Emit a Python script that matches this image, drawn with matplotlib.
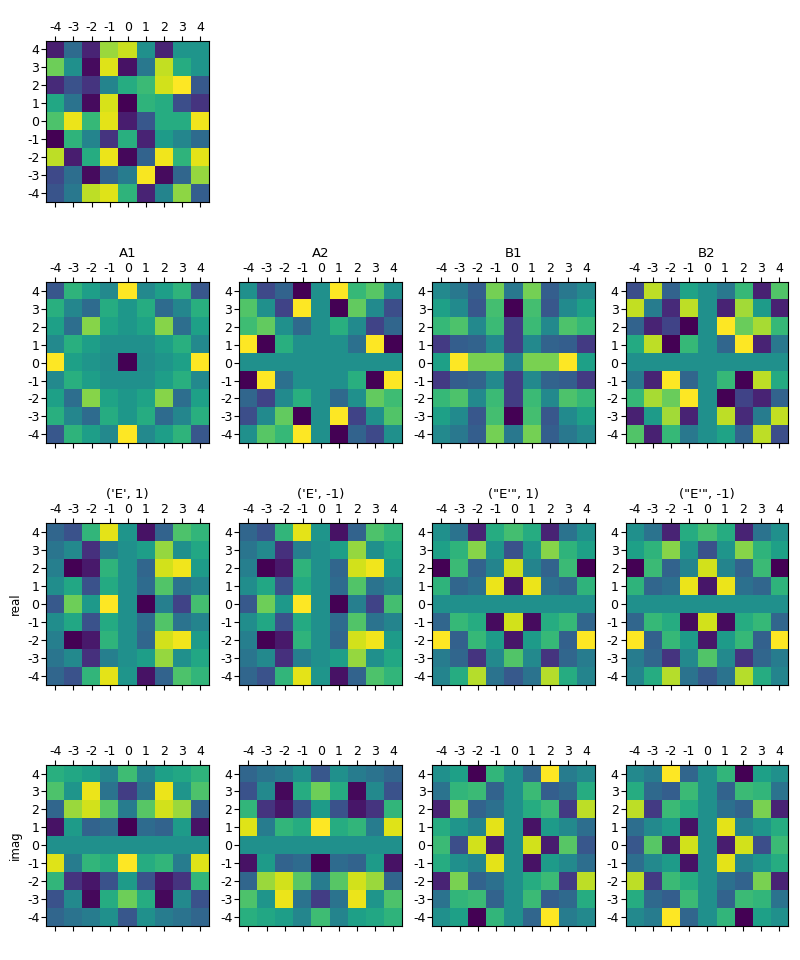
import numpy as np
import matplotlib
matplotlib.use("Agg")
import matplotlib.pyplot as plt

tick_vals = [-4, -3, -2, -1, 0, 1, 2, 3, 4]

# cell values, top row (y=4) first, scaled 0..1
full = [
    [.08, .35, .10, .85, .92, .50, .10, .52, .52],
    [.78, .50, .03, .95, .05, .40, .91, .62, .52],
    [.12, .25, .15, .45, .62, .68, .93, 1.0, .28],
    [.60, .38, .03, .94, 0, .65, .62, .24, .15],
    [.72, .97, .67, .96, .08, .27, .62, .62, .98],
    [0, .65, .45, .15, .63, .10, .55, .46, .35],
    [.90, .08, .62, .97, .02, .32, .98, .65, .96],
    [.22, .36, .03, .32, .42, .99, .03, .33, .84],
    [.26, .40, .90, .95, .65, .10, .45, .83, .30],
]

a1 = [
    [.27, .65, .56, .47, 1, .47, .56, .65, .27],
    [.63, .46, .35, .62, .53, .62, .35, .46, .63],
    [.57, .36, .82, .58, .53, .58, .82, .36, .57],
    [.47, .63, .56, .50, .50, .50, .56, .63, .47],
    [1, .57, .52, .49, 0, .49, .52, .57, 1],
    [.47, .63, .56, .50, .50, .50, .56, .63, .47],
    [.57, .36, .82, .58, .53, .58, .82, .36, .57],
    [.63, .46, .35, .62, .53, .62, .35, .46, .63],
    [.27, .65, .56, .47, 1, .47, .56, .65, .27],
]

a2 = [
    [.5, .22, .32, 0, .5, 1, .67, .74, .5],
    [.73, .5, .2, 1, .5, 0, .76, .48, .24],
    [.69, .76, .5, .34, .5, .63, .48, .2, .33],
    [1, 0, .63, .5, .5, .5, .37, 1, 0],
    [.5, .5, .5, .5, .5, .5, .5, .5, .5],
    [0, 1, .37, .5, .5, .5, .63, 0, 1],
    [.33, .2, .48, .63, .5, .34, .5, .76, .69],
    [.24, .48, .76, 0, .5, 1, .2, .5, .73],
    [.5, .74, .67, 1, .5, 0, .32, .22, .5],
]

b1 = [
    [.47, .40, .30, .79, .40, .79, .30, .40, .47],
    [.57, .48, .27, .70, 0, .70, .27, .48, .57],
    [.67, .72, .47, .68, .18, .68, .47, .72, .67],
    [.17, .30, .32, .47, .18, .47, .32, .30, .17],
    [.57, 1, .80, .80, .45, .80, .80, 1, .57],
    [.17, .30, .32, .47, .18, .47, .32, .30, .17],
    [.67, .72, .47, .68, .18, .68, .47, .72, .67],
    [.57, .48, .27, .70, 0, .70, .27, .48, .57],
    [.47, .40, .30, .79, .40, .79, .30, .40, .47],
]

b2 = [
    [.24, .90, .32, .58, .5, .40, .67, .09, .73],
    [.91, .42, .12, .90, .5, .10, .86, .55, .09],
    [.32, .10, .20, 0, .5, 1, .77, .87, .67],
    [.61, .90, 0, .67, .5, .33, 1, .10, .40],
    [.5, .5, .5, .5, .5, .5, .5, .5, .5],
    [.40, .10, 1, .33, .5, .67, 0, .90, .61],
    [.67, .87, .77, 1, .5, 0, .20, .10, .32],
    [.09, .55, .86, .10, .5, .90, .12, .42, .91],
    [.73, .09, .67, .40, .5, .58, .32, .90, .24],
]

e_real = [
    [.33, .25, .66, .96, .52, .05, .32, .72, .66],
    [.39, .47, .14, .43, .5, .56, .84, .5, .6],
    [.43, 0, .07, .65, .5, .33, .93, .98, .55],
    [.49, .6, .25, .61, .5, .35, .73, .38, .45],
    [.28, .78, .54, 1, .5, 0, .43, .2, .70],
    [.49, .6, .25, .61, .5, .35, .73, .38, .45],
    [.43, 0, .07, .65, .5, .33, .93, .98, .55],
    [.39, .47, .14, .43, .5, .56, .84, .5, .6],
    [.33, .25, .66, .96, .52, .05, .32, .72, .66],
]

e2_real = [
    [.5, .38, .10, .62, .70, .62, .10, .38, .5],
    [.57, .65, .82, .52, .25, .52, .82, .65, .57],
    [0, .68, .32, .45, .93, .45, .32, .68, 0],
    [.65, .33, .37, .97, .06, .97, .37, .33, .65],
    [.5, .5, .5, .5, .5, .5, .5, .5, .5],
    [.33, .67, .62, .03, .93, .03, .62, .67, .33],
    [1, .31, .67, .55, .06, .55, .67, .31, 1],
    [.42, .33, .15, .47, .73, .47, .15, .33, .42],
    [.45, .62, .89, .38, .28, .38, .89, .62, .45],
]

e_imag_p = [
    [.63, .60, .56, .46, .69, .45, .57, .60, .65],
    [.72, .52, .97, .38, .18, .38, .97, .52, .72],
    [.33, .85, .93, .74, .42, .74, .93, .85, .33],
    [.05, .55, .32, .35, 0, .35, .32, .55, .05],
    [.5, .5, .5, .5, .5, .5, .5, .5, .5],
    [.95, .42, .66, .62, 1, .62, .66, .42, .95],
    [.66, .15, .06, .25, .55, .25, .06, .15, .66],
    [.25, .47, .02, .62, .78, .62, .02, .47, .25],
    [.33, .38, .42, .5, .27, .5, .42, .38, .33],
]

e_imag_m = [
    [.33, .38, .42, .5, .27, .5, .42, .38, .33],
    [.25, .47, .02, .62, .78, .62, .02, .47, .25],
    [.66, .15, .06, .25, .55, .25, .06, .15, .66],
    [.95, .42, .66, .62, 1, .62, .66, .42, .95],
    [.5, .5, .5, .5, .5, .5, .5, .5, .5],
    [.05, .55, .32, .35, 0, .35, .32, .55, .05],
    [.33, .85, .93, .74, .42, .74, .93, .85, .33],
    [.72, .52, .97, .38, .18, .38, .97, .52, .72],
    [.63, .60, .56, .46, .69, .45, .57, .60, .65],
]

e2_imag_p = [
    [.5, .57, 0, .66, .5, .33, 1, .42, .47],
    [.38, .66, .68, .32, .5, .68, .30, .34, .62],
    [.10, .80, .32, .37, .5, .62, .68, .17, .90],
    [.62, .52, .45, .96, .5, .05, .55, .47, .36],
    [.68, .24, .93, .08, .5, .93, .08, .74, .27],
    [.62, .50, .45, .96, .5, .05, .55, .47, .36],
    [.10, .80, .32, .37, .5, .62, .68, .17, .90],
    [.38, .66, .68, .32, .5, .68, .30, .34, .62],
    [.5, .57, 0, .66, .5, .33, 1, .42, .47],
]

e2_imag_m = [
    [.47, .42, 1, .33, .5, .66, 0, .57, .5],
    [.62, .34, .30, .68, .5, .32, .68, .66, .38],
    [.90, .17, .68, .62, .5, .37, .32, .80, .10],
    [.36, .47, .55, .05, .5, .96, .45, .52, .62],
    [.27, .74, .08, .93, .5, .08, .93, .24, .68],
    [.36, .47, .55, .05, .5, .96, .45, .52, .62],
    [.90, .17, .68, .62, .5, .37, .32, .80, .10],
    [.62, .34, .30, .68, .5, .32, .68, .66, .38],
    [.47, .42, 1, .33, .5, .66, 0, .57, .5],
]

fig, axes = plt.subplots(4, 4, figsize=(8, 9.6))
fig.subplots_adjust(left=46.3/800, right=788.3/800, top=1-40.5/960, bottom=1-926/960,
                    wspace=0.186, hspace=0.495)

panels = [
    (0, 0, full, None),
    (1, 0, a1, "A1"),
    (1, 1, a2, "A2"),
    (1, 2, b1, "B1"),
    (1, 3, b2, "B2"),
    (2, 0, e_real, "('E', 1)"),
    (2, 1, e_real, "('E', -1)"),
    (2, 2, e2_real, "(\"E'\", 1)"),
    (2, 3, e2_real, "(\"E'\", -1)"),
    (3, 0, e_imag_p, None),
    (3, 1, e_imag_m, None),
    (3, 2, e2_imag_p, None),
    (3, 3, e2_imag_m, None),
]

for ax in axes[0, 1:]:
    ax.axis("off")

for r, c, cells, title in panels:
    ax = axes[r, c]
    ax.imshow(np.array(cells), cmap="viridis", vmin=0, vmax=1, aspect="auto",
              interpolation="nearest",
              extent=(tick_vals[0]-0.5, tick_vals[-1]+0.5, tick_vals[0]-0.5, tick_vals[-1]+0.5))
    ax.set_xticks(tick_vals)
    ax.set_yticks(tick_vals)
    ax.tick_params(top=True, labeltop=True, bottom=True, labelbottom=False,
                   labelsize=9, pad=1.5)
    # plain hyphens in the tick labels
    ax.set_xticklabels([str(v) for v in tick_vals])
    ax.set_yticklabels([str(v) for v in tick_vals])
    if title:
        ax.set_title(title, fontsize=9.5, pad=3.5)

axes[2, 0].set_ylabel("real", fontsize=8.5, labelpad=3.5)
axes[3, 0].set_ylabel("imag", fontsize=8.5, labelpad=3.5)

fig.savefig("out.png", dpi=100)
